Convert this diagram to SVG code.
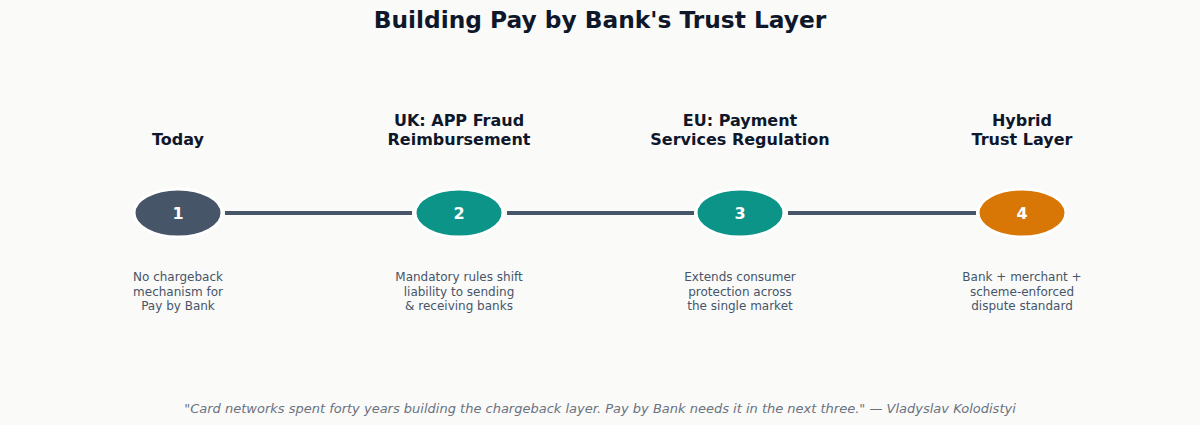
<svg xmlns="http://www.w3.org/2000/svg" width="1200" height="425" viewBox="0 0 1200 425">
<style>
text{font-family:"DejaVu Sans","Noto Sans",sans-serif;text-anchor:middle}
.title{font-size:23.3px;font-weight:bold;fill:#0f172a}
.lbl{font-size:16px;font-weight:bold;fill:#0f172a}
.num{font-size:16px;font-weight:bold;fill:#ffffff}
.desc{font-size:12px;fill:#475569}
.quote{font-size:13px;font-style:italic;fill:#6b7280}
.conn{stroke:#475569;stroke-width:4;fill:none}
ellipse{stroke:#ffffff;stroke-width:3}
</style>
<rect width="1200" height="425" fill="#fafaf9"/>
<text class="title" x="600" y="28">Building Pay by Bank's Trust Layer</text>
<g id="connectors">
<line class="conn" x1="225" y1="213" x2="412" y2="213"/>
<line class="conn" x1="507" y1="213" x2="694" y2="213"/>
<line class="conn" x1="788" y1="213" x2="976" y2="213"/>
</g>
<g id="node1">
<text class="lbl" x="178" y="145">Today</text>
<ellipse cx="178" cy="213" rx="44" ry="24" fill="#475569"/>
<text class="num" x="178" y="218.5">1</text>
<text class="desc" x="178" y="281">No chargeback</text>
<text class="desc" x="178" y="295.5">mechanism for</text>
<text class="desc" x="178" y="310">Pay by Bank</text>
</g>
<g id="node2">
<text class="lbl" x="459" y="126">UK: APP Fraud</text>
<text class="lbl" x="459" y="145">Reimbursement</text>
<ellipse cx="459" cy="213" rx="44" ry="24" fill="#0d9488"/>
<text class="num" x="459" y="218.5">2</text>
<text class="desc" x="459" y="281">Mandatory rules shift</text>
<text class="desc" x="459" y="295.5">liability to sending</text>
<text class="desc" x="459" y="310">&amp; receiving banks</text>
</g>
<g id="node3">
<text class="lbl" x="740" y="126">EU: Payment</text>
<text class="lbl" x="740" y="145">Services Regulation</text>
<ellipse cx="740" cy="213" rx="44" ry="24" fill="#0d9488"/>
<text class="num" x="740" y="218.5">3</text>
<text class="desc" x="740" y="281">Extends consumer</text>
<text class="desc" x="740" y="295.5">protection across</text>
<text class="desc" x="740" y="310">the single market</text>
</g>
<g id="node4">
<text class="lbl" x="1022" y="126">Hybrid</text>
<text class="lbl" x="1022" y="145">Trust Layer</text>
<ellipse cx="1022" cy="213" rx="44" ry="24" fill="#d97706"/>
<text class="num" x="1022" y="218.5">4</text>
<text class="desc" x="1022" y="281">Bank + merchant +</text>
<text class="desc" x="1022" y="295.5">scheme-enforced</text>
<text class="desc" x="1022" y="310">dispute standard</text>
</g>
<text class="quote" x="600" y="413">"Card networks spent forty years building the chargeback layer. Pay by Bank needs it in the next three." — Vladyslav Kolodistyi</text>
</svg>
